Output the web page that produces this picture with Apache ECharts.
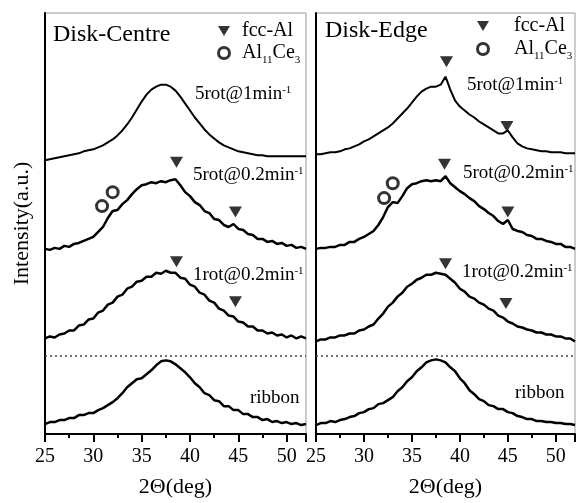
<!DOCTYPE html>
<html>
<head>
<meta charset="utf-8">
<script src="https://cdn.jsdelivr.net/npm/echarts@6/dist/echarts.min.js"></script>
<style>
  html, body { margin: 0; padding: 0; background: #fff; }
  #chart { width: 576px; height: 503px; }
</style>
</head>
<body>
<div id="chart"></div>
<script>
// 2-theta grid (deg)
const theta = [25, 25.5, 26, 26.5, 27, 27.5, 28, 28.5, 29, 29.5, 30, 30.5, 31, 31.5, 32, 32.5, 33, 33.5, 34, 34.5,
  35, 35.5, 36, 36.5, 37, 37.5, 38, 38.5, 39, 39.5, 40, 40.5, 41, 41.5, 42, 42.5, 43, 43.5, 44, 44.5,
  45, 45.5, 46, 46.5, 47, 47.5, 48, 48.5, 49, 49.5, 50, 50.5, 51, 51.5, 52]

// Disk-Centre patterns (offset intensity, a.u.)
const centre5rot1 = [275, 276, 277, 278, 279, 280, 281, 282, 284, 285, 286, 288, 290, 293, 296, 300, 305, 311, 318, 326,
  334, 341, 346, 349, 351, 351, 349, 345, 339, 332, 325, 318, 312, 306, 301, 297, 293, 290, 288, 286,
  284, 283, 282, 281, 280, 280, 279, 279, 279, 279, 279, 279, 279, 279, 279]
const centre5rot02 = [186, 185, 187, 186, 189, 188, 191, 192, 194, 196, 198, 203, 208, 217, 224, 225, 231, 235, 241, 246,
  250, 251, 253, 252, 254, 253, 255, 256, 250, 243, 239, 233, 230, 224, 222, 216, 215, 210, 208, 211,
  206, 205, 201, 200, 196, 196, 193, 194, 191, 192, 189, 190, 187, 188, 186]
const centre1rot02 = [96, 98, 97, 100, 101, 104, 104, 109, 110, 115, 116, 122, 124, 130, 132, 138, 140, 146, 148, 153,
  154, 158, 158, 162, 161, 164, 162, 162, 157, 156, 150, 148, 142, 140, 134, 132, 126, 124, 119, 118,
  113, 112, 108, 108, 104, 104, 101, 102, 99, 100, 97, 99, 96, 98, 96]
const centreRibbon = [10, 12, 12, 14, 14, 16, 16, 19, 19, 21, 21, 24, 26, 29, 32, 36, 41, 47, 51, 55,
  56, 60, 64, 69, 73, 74, 73, 70, 66, 62, 57, 51, 47, 41, 39, 34, 33, 28, 28, 24,
  24, 20, 20, 17, 17, 14, 15, 12, 13, 11, 12, 10, 11, 9, 10]

// Disk-Edge patterns
const edge5rot1 = [281, 281, 282, 283, 283, 284, 286, 287, 289, 291, 294, 296, 299, 302, 305, 308, 312, 317, 322, 327,
  333, 339, 344, 347, 349, 349, 351, 359, 346, 335, 329, 325, 321, 318, 314, 311, 308, 305, 302, 302,
  305, 298, 292, 289, 287, 286, 285, 284, 284, 283, 283, 283, 282, 282, 282]
const edge5rot02 = [186, 187, 187, 188, 188, 190, 190, 193, 193, 196, 198, 201, 204, 210, 218, 228, 233, 232, 239, 247,
  251, 252, 254, 255, 254, 255, 254, 259, 252, 248, 244, 241, 237, 234, 229, 226, 222, 219, 214, 211,
  215, 206, 204, 203, 200, 199, 196, 196, 194, 193, 191, 191, 188, 188, 186]
const edge1rot02 = [93, 95, 95, 97, 97, 99, 99, 101, 101, 104, 105, 108, 110, 116, 121, 128, 132, 138, 142, 148,
  151, 155, 157, 160, 160, 162, 161, 160, 156, 152, 146, 143, 138, 136, 132, 130, 126, 124, 119, 117,
  113, 111, 108, 107, 105, 104, 102, 102, 100, 100, 98, 98, 96, 96, 93]
const edgeRibbon = [9, 11, 11, 13, 12, 14, 15, 17, 18, 21, 22, 25, 26, 30, 31, 34, 37, 43, 47, 53,
  57, 63, 67, 72, 74, 75, 74, 72, 67, 63, 56, 51, 44, 40, 35, 33, 29, 28, 25, 25,
  22, 21, 18, 17, 15, 15, 13, 13, 12, 12, 11, 11, 10, 10, 9]

// phase markers [2theta, intensity]
const centreFcc = [[38.6, 273], [44.7, 223], [38.6, 173], [44.7, 133]]
const centreAlCe = [[30.9, 229], [32.0, 243]]
const edgeFcc = [[38.6, 374], [44.9, 309], [38.4, 271], [45.0, 223], [38.5, 171], [44.8, 131]]
const edgeAlCe = [[32.1, 237], [33.0, 252]]

// ribbon / processed separator
const separator = 79

const FONT = 'Liberation Serif'
const DOWN_TRIANGLE = 'path://M0,0L12,0L6,10Z'

const chart = echarts.init(document.getElementById('chart'))

const pairs = (ys) => theta.map((t, i) => [t, ys[i]])

const curve = (idx, ys, width) => ({
  type: 'line',
  xAxisIndex: idx,
  yAxisIndex: idx,
  symbol: 'none',
  silent: true,
  lineStyle: { color: '#000', width: width },
  data: pairs(ys),
})

const fccSeries = (idx, data) => ({
  name: 'fcc-Al',
  type: 'scatter',
  xAxisIndex: idx,
  yAxisIndex: idx,
  symbol: DOWN_TRIANGLE,
  symbolSize: [13, 11],
  itemStyle: { color: '#000' },
  data: data,
})

const alceSeries = (idx, data) => ({
  name: 'Al11Ce3',
  type: 'scatter',
  xAxisIndex: idx,
  yAxisIndex: idx,
  symbol: 'circle',
  symbolSize: 11,
  itemStyle: { color: '#fff', borderColor: '#000', borderWidth: 3 },
  data: data,
})

const sepSeries = (idx) => ({
  type: 'line',
  xAxisIndex: idx,
  yAxisIndex: idx,
  data: [],
  markLine: {
    silent: true,
    symbol: 'none',
    label: { show: false },
    lineStyle: { color: '#444', type: [2, 3], width: 1.5 },
    data: [{ yAxis: separator }],
  },
})

const xAxis = (idx) => ({
  type: 'value',
  gridIndex: idx,
  min: 25,
  max: 52,
  interval: 5,
  name: '2\u0398(deg)',
  nameLocation: 'middle',
  nameGap: 42,
  nameTextStyle: { fontFamily: FONT, fontSize: 22, color: '#000' },
  axisLine: { lineStyle: { color: '#000', width: 2 } },
  axisTick: { inside: false, length: 8, lineStyle: { color: '#000', width: 2 } },
  minorTick: { show: true, splitNumber: 2, length: 4, lineStyle: { color: '#000', width: 2 } },
  axisLabel: { fontFamily: FONT, fontSize: 20, color: '#000', margin: 13 },
  splitLine: { show: false },
})

const yAxis = (idx) => ({
  type: 'value',
  gridIndex: idx,
  min: 0,
  max: 423,
  name: idx === 0 ? 'Intensity(a.u.)' : '',
  nameLocation: 'middle',
  nameRotate: 90,
  nameGap: 12,
  nameTextStyle: { fontFamily: FONT, fontSize: 22, color: '#000' },
  axisLine: { show: true, lineStyle: { color: '#000', width: 2 } },
  axisTick: { show: false },
  axisLabel: { show: false },
  splitLine: { show: false },
})

const legendRich = {
  t: { fontFamily: FONT, fontSize: 20, color: '#000', lineHeight: 24 },
  s: { fontFamily: FONT, fontSize: 11, color: '#000', verticalAlign: 'top', lineHeight: 10, padding: [14, 0, 0, 0] },
}
const legend = (left, top, pad, gap) => ({
  left: left,
  top: top,
  orient: 'vertical',
  itemWidth: 12,
  itemHeight: 11,
  itemGap: gap,
  selectedMode: false,
  data: [
    { name: 'fcc-Al', icon: DOWN_TRIANGLE, itemStyle: { color: '#000' } },
    { name: 'Al11Ce3', icon: 'circle', itemStyle: { color: '#fff', borderColor: '#000', borderWidth: 3 } },
  ],
  formatter: (name) => name === 'fcc-Al' ? '{t|fcc-Al}' : '{t|Al}{s|11}{t|Ce}{s|3}',
  textStyle: { fontFamily: FONT, fontSize: 20, color: '#000', padding: [0, 0, 0, pad], rich: legendRich },
})

const labelRich = {
  m: { fontFamily: FONT, fontSize: 19, color: '#000' },
  u: { fontFamily: FONT, fontSize: 11, color: '#000', verticalAlign: 'top', lineHeight: 11 },
}
const label = (x, y, text, sup) => ({
  type: 'text',
  left: x,
  top: y,
  silent: true,
  style: {
    text: sup ? '{m|' + text + '}{u|-1}' : '{m|' + text + '}',
    rich: labelRich,
  },
})
const title = (x, y, text) => ({
  type: 'text',
  left: x,
  top: y,
  silent: true,
  style: { text: text, fontFamily: FONT, fontSize: 24, fill: '#000' },
})

const option = {
  animation: false,
  backgroundColor: '#fff',
  grid: [
    { left: 45, top: 13, width: 261, height: 423, show: true, borderColor: '#999', borderWidth: 1 },
    { left: 316, top: 13, width: 259, height: 423, show: true, borderColor: '#999', borderWidth: 1 },
  ],
  xAxis: [xAxis(0), xAxis(1)],
  yAxis: [yAxis(0), yAxis(1)],
  legend: [legend(212, 16, 7, 0), legend(471, 11, 20, 1)],
  graphic: [
    title(53, 23, 'Disk-Centre'),
    title(325, 19, 'Disk-Edge'),
    label(195, 85, '5rot@1min', true),
    label(467, 76, '5rot@1min', true),
    label(193, 166, '5rot@0.2min', true),
    label(463, 164, '5rot@0.2min', true),
    label(193, 266, '1rot@0.2min', true),
    label(462, 263, '1rot@0.2min', true),
    label(250, 389, 'ribbon', false),
    label(515, 384, 'ribbon', false),
  ],
  series: [
    curve(0, centre5rot1, 2),
    curve(0, centre5rot02, 2.5),
    curve(0, centre1rot02, 2.5),
    curve(0, centreRibbon, 2.5),
    curve(1, edge5rot1, 2),
    curve(1, edge5rot02, 2.5),
    curve(1, edge1rot02, 2.5),
    curve(1, edgeRibbon, 2.5),
    sepSeries(0),
    sepSeries(1),
    fccSeries(0, centreFcc),
    alceSeries(0, centreAlCe),
    fccSeries(1, edgeFcc),
    alceSeries(1, edgeAlCe),
  ],
}

chart.setOption(option)
window.addEventListener('resize', () => chart.resize())
</script>
</body>
</html>
